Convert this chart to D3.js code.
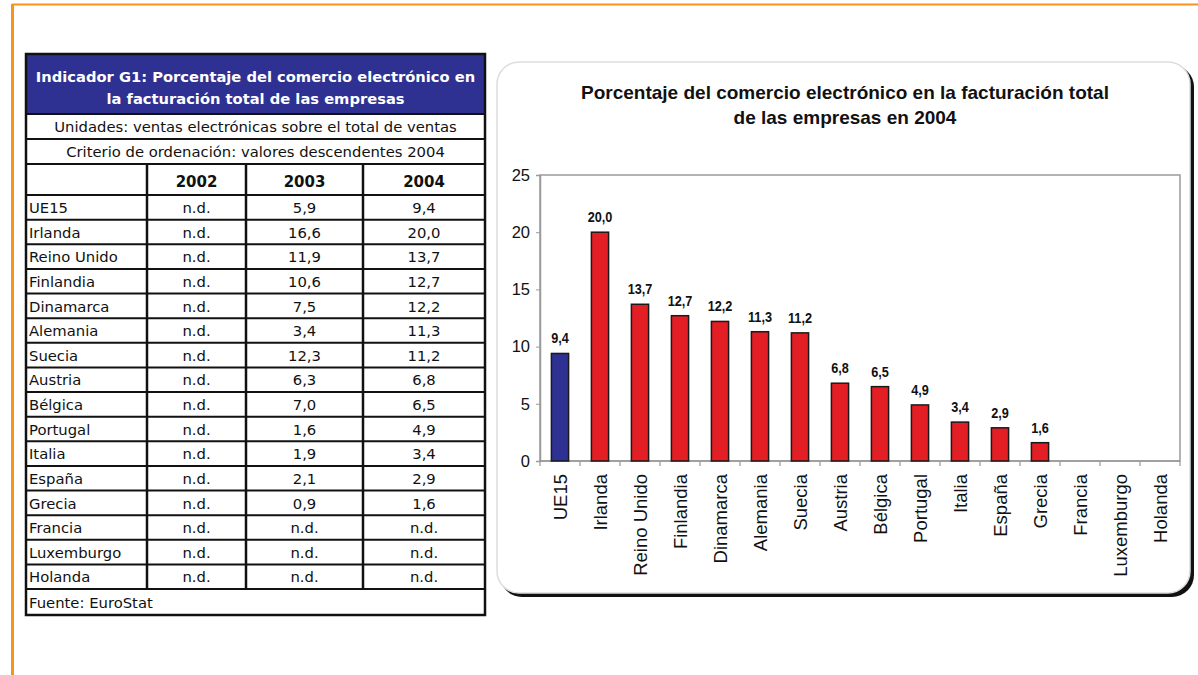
<!DOCTYPE html>
<html><head><meta charset="utf-8">
<script src="https://cdn.jsdelivr.net/npm/d3@7"></script>
<style>
html,body{margin:0;padding:0;background:#fff;}
svg{display:block;}
</style></head>
<body>
<svg id="c" width="1198" height="675"></svg>
<script>
// ---- data ----
const categories = ["UE15","Irlanda","Reino Unido","Finlandia","Dinamarca","Alemania","Suecia","Austria","Bélgica","Portugal","Italia","España","Grecia","Francia","Luxemburgo","Holanda"];
const values2002 = [null,null,null,null,null,null,null,null,null,null,null,null,null,null,null,null];
const values2003 = [5.9,16.6,11.9,10.6,7.5,3.4,12.3,6.3,7.0,1.6,1.9,2.1,0.9,null,null,null];
const values2004 = [9.4,20.0,13.7,12.7,12.2,11.3,11.2,6.8,6.5,4.9,3.4,2.9,1.6,null,null,null];
const yearLabels = ["2002","2003","2004"];
const yTicks = [0,5,10,15,20,25];
const tableTitle = ["Indicador G1: Porcentaje del comercio electrónico en","la facturación total de las empresas"];
const unitsText = "Unidades: ventas electrónicas sobre el total de ventas";
const orderText = "Criterio de ordenación: valores descendentes 2004";
const sourceText = "Fuente: EuroStat";
const chartTitle = ["Porcentaje del comercio electrónico en la facturación total","de las empresas en 2004"];

const fmt = v => v == null ? "n.d." : v.toFixed(1).replace(".", ",");
const svg = d3.select("#c");

// ---- orange page frame ----
svg.append("line").attr("x1",12).attr("x2",1198).attr("y1",4.5).attr("y2",4.5).attr("stroke","#f7941d").attr("stroke-width",2);
svg.append("line").attr("x1",12.5).attr("x2",12.5).attr("y1",4).attr("y2",675).attr("stroke","#f7941d").attr("stroke-width",3);

// ---- table ----
const T = svg.append("g");
const colX = [26,147,246,363,485];
const tl = colX[0], tr = colX[4];
const tFont = "'DejaVu Sans', Verdana, sans-serif";
const rowTop = 195, rowH = (589-195)/16;

T.append("rect").attr("x",tl).attr("y",54).attr("width",tr-tl).attr("height",60).attr("fill","#2e3192");
tableTitle.forEach((t,i)=>T.append("text").attr("x",(tl+tr)/2).attr("y",82+i*22).attr("text-anchor","middle")
  .attr("fill","#fff").attr("font-family",tFont).attr("font-weight","bold").attr("font-size",14.7).text(t));
T.append("text").attr("x",(tl+tr)/2).attr("y",132).attr("text-anchor","middle").attr("font-family",tFont).attr("font-size",14.8).attr("fill","#111").text(unitsText);
T.append("text").attr("x",(tl+tr)/2).attr("y",157).attr("text-anchor","middle").attr("font-family",tFont).attr("font-size",14.8).attr("fill","#111").text(orderText);
yearLabels.forEach((y,i)=>T.append("text").attr("x",(colX[i+1]+colX[i+2])/2).attr("y",187).attr("text-anchor","middle")
  .attr("font-family",tFont).attr("font-weight","bold").attr("font-size",15).attr("fill","#111").text(y));

const cols = [values2002, values2003, values2004];
categories.forEach((c,r)=>{
  const yb = rowTop + r*rowH + 18;
  T.append("text").attr("x",tl+3).attr("y",yb).attr("font-family",tFont).attr("font-size",14.8).attr("fill","#111").text(c);
  cols.forEach((arr,j)=>T.append("text").attr("x",(colX[j+1]+colX[j+2])/2).attr("y",yb).attr("text-anchor","middle")
    .attr("font-family",tFont).attr("font-size",14.8).attr("fill","#111").text(fmt(arr[r])));
});
T.append("text").attr("x",tl+3).attr("y",608).attr("font-family",tFont).attr("font-size",14.8).attr("fill","#111").text(sourceText);

// lines
const hl = [114,139,164,195];
for(let r=1;r<16;r++) hl.push(rowTop+r*rowH);
hl.push(589);
hl.forEach(y=>T.append("line").attr("x1",tl).attr("x2",tr).attr("y1",y).attr("y2",y).attr("stroke","#111").attr("stroke-width",2));
colX.slice(1,4).forEach(x=>T.append("line").attr("x1",x).attr("x2",x).attr("y1",164).attr("y2",589).attr("stroke","#111").attr("stroke-width",2.5));
T.append("rect").attr("x",tl).attr("y",54).attr("width",tr-tl).attr("height",615-54).attr("fill","none").attr("stroke","#111").attr("stroke-width",2.5);

// ---- chart panel ----
const P = svg.append("g");
P.append("rect").attr("x",500).attr("y",65).attr("width",694).attr("height",532).attr("rx",22).attr("fill","#111");
P.append("rect").attr("x",497).attr("y",62).attr("width",693).attr("height",531).attr("rx",22).attr("fill","#fff").attr("stroke","#ddd").attr("stroke-width",1.5);

const aFont = "'Liberation Sans', Arial, sans-serif";
chartTitle.forEach((t,i)=>P.append("text").attr("x",845).attr("y",99+i*25).attr("text-anchor","middle")
  .attr("font-family",aFont).attr("font-weight","bold").attr("font-size",19).attr("fill","#111").text(t));

const x = d3.scaleBand().domain(categories).range([540,1180]).paddingInner(0.57).paddingOuter(0.285);
const y = d3.scaleLinear().domain([0,25]).range([461,175]);

// plot frame
P.append("rect").attr("x",540).attr("y",y(25)).attr("width",640).attr("height",y(0)-y(25)).attr("fill","none").attr("stroke","#9a9a9a").attr("stroke-width",1.5);

// y axis
const ya = P.append("g").attr("transform","translate(540,0)").call(d3.axisLeft(y).tickValues(yTicks).tickSize(4).tickPadding(6));
ya.select(".domain").attr("stroke","#9a9a9a").attr("stroke-width",1.5);
ya.selectAll(".tick line").attr("stroke","#9a9a9a");
ya.selectAll(".tick text").attr("font-family",aFont).attr("font-size",16.5).attr("fill","#111");

// x axis ticks at band boundaries
const bounds = d3.range(categories.length+1).map(i=>540+i*x.step());
P.selectAll(".xt").data(bounds).join("line").attr("x1",d=>d).attr("x2",d=>d).attr("y1",461).attr("y2",466).attr("stroke","#9a9a9a").attr("stroke-width",1.2);
P.append("line").attr("x1",540).attr("x2",1180).attr("y1",461).attr("y2",461).attr("stroke","#9a9a9a").attr("stroke-width",1.5);

// x labels
P.selectAll(".xl").data(categories).join("text")
  .attr("transform",d=>`translate(${x(d)+x.bandwidth()/2+6.5},474) rotate(-90)`)
  .attr("text-anchor","end").attr("font-family",aFont).attr("font-size",18.5).attr("fill","#111").text(d=>d);

// bars
const bd = categories.map((c,i)=>({c,v:values2004[i],i})).filter(d=>d.v!=null);
P.selectAll(".bar").data(bd).join("rect")
  .attr("x",d=>x(d.c)).attr("width",x.bandwidth())
  .attr("y",d=>y(d.v)).attr("height",d=>y(0)-y(d.v))
  .attr("fill",d=>d.i===0?"#2e3192":"#e31e24").attr("stroke","#1a1a1a").attr("stroke-width",1.5);

P.selectAll(".vl").data(bd).join("text")
  .attr("transform",d=>`translate(${x(d.c)+x.bandwidth()/2},${y(d.v)-10}) scale(0.82,1)`)
  .attr("text-anchor","middle").attr("font-family",aFont)
  .attr("font-weight","bold").attr("font-size",15.5).attr("fill","#111").text(d=>fmt(d.v));
</script>
</body></html>
